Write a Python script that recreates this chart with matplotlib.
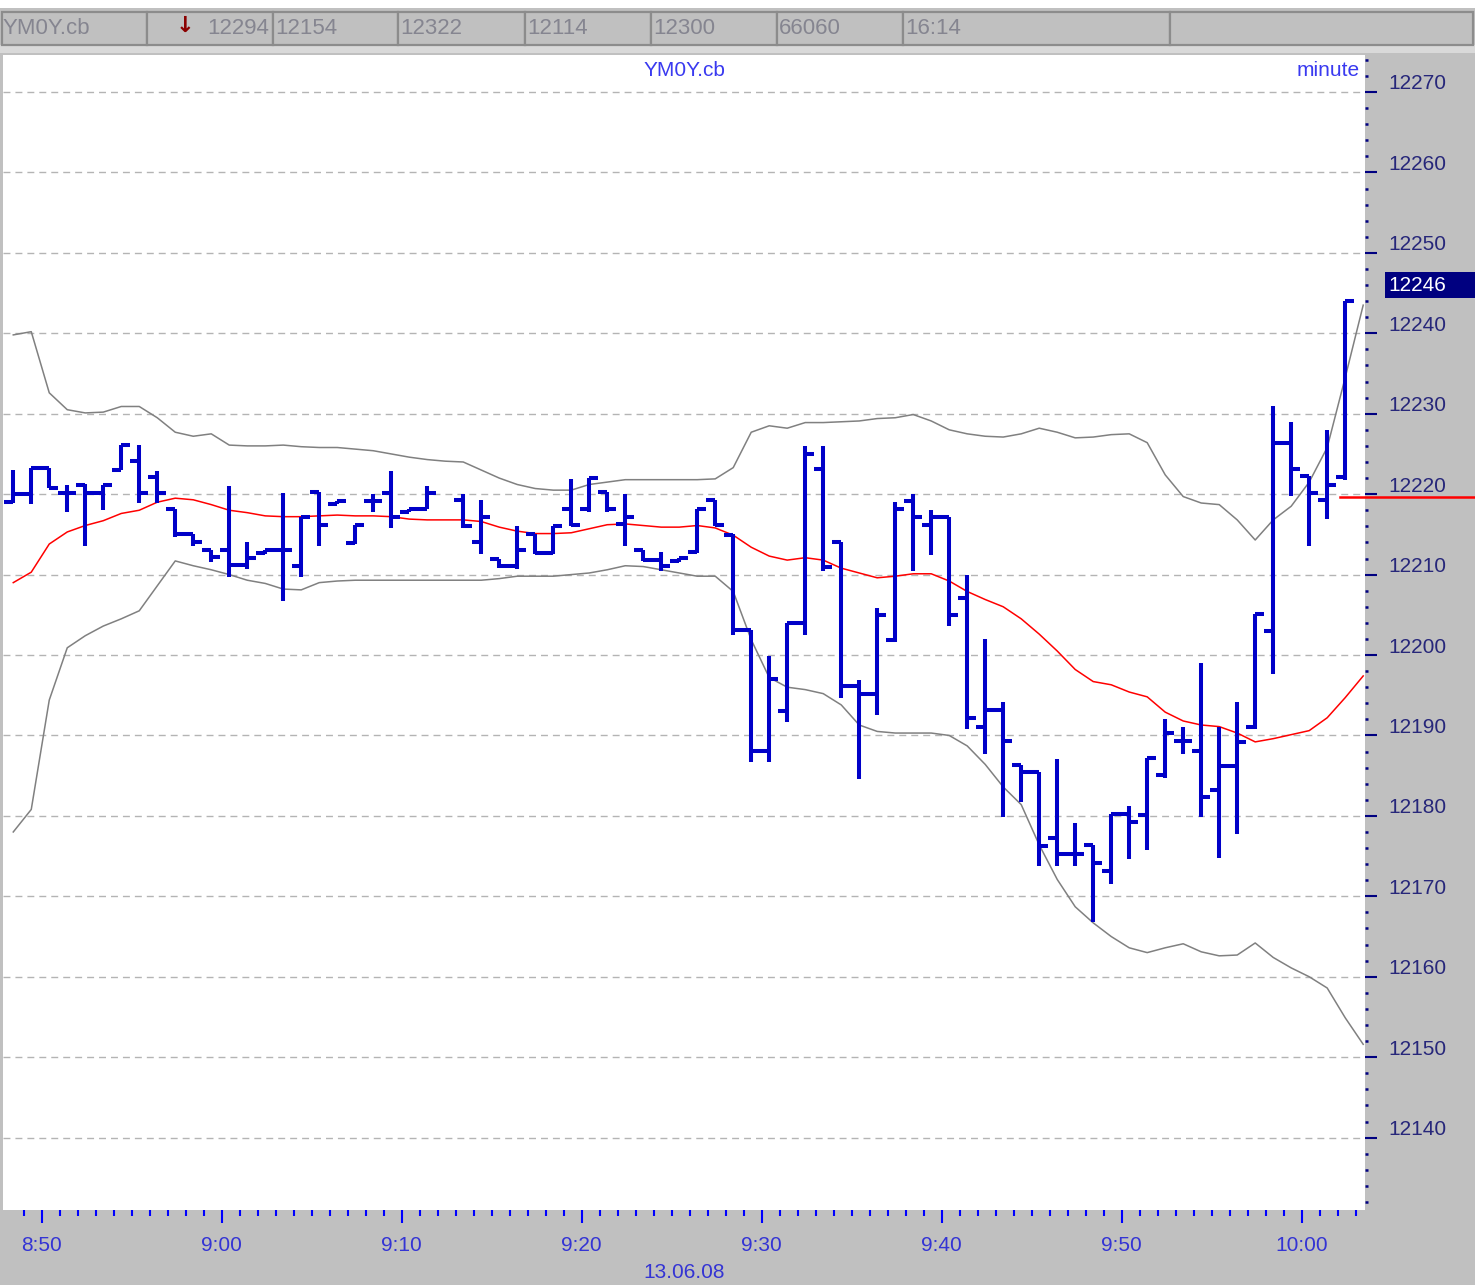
import numpy as np
import matplotlib
matplotlib.use("Agg")
import matplotlib.pyplot as plt
from matplotlib.patches import Rectangle
from matplotlib.transforms import ScaledTranslation, blended_transform_factory
from matplotlib.ticker import MultipleLocator, FixedLocator, FuncFormatter

plt.rcParams['font.family'] = ['Liberation Sans', 'DejaVu Sans']

# ---------------- data ----------------
symbol = "YM0Y.cb"
interval_label = "minute"
date_label = "13.06.08"
header_fields = ["YM0Y.cb", "12294", "12154", "12322", "12114", "12300", "66060", "16:14"]
last_price_label = "12246"
alert_level = 12219.7
first_bar_time = 8 * 60 + 48.42   # minutes after midnight of first bar

nan = float('nan')
opens = [12219.0, 12220.0, 12223.2, 12220.2, 12221.2, 12220.2, 12223.0, 12224.1, 12222.1, 12218.2,
         12215.0, 12213.1, 12213.1, 12211.2, 12212.7, 12213.0, 12211.1, 12220.3, 12218.8, 12213.9,
         12219.1, 12220.2, 12217.8, 12218.1, nan, 12219.3, 12214.0, 12212.0, 12211.1, 12215.0,
         12212.7, 12218.1, 12218.1, 12220.3, 12216.3, 12213.0, 12211.8, 12211.7, 12212.8, 12219.3,
         12214.9, 12203.1, 12188.1, 12193.0, 12204.0, 12223.1, 12214.0, 12196.1, 12195.1, 12201.9,
         12219.1, 12216.2, 12217.2, 12207.1, 12191.1, 12193.2, 12186.3, 12185.4, 12177.3, 12175.3,
         12176.4, 12173.2, 12180.2, 12180.1, 12185.1, 12189.3, 12188.1, 12183.2, 12186.2, 12191.1,
         12203.0, 12226.3, 12222.2, 12219.3, 12222.1]
highs = [12223.0, 12223.2, 12223.2, 12221.1, 12221.3, 12221.2, 12226.1, 12226.1, 12222.9, 12218.2,
         12215.0, 12213.1, 12221.0, 12214.0, 12213.0, 12220.1, 12217.2, 12220.3, 12219.1, 12216.2,
         12220.0, 12222.9, 12218.1, 12221.0, nan, 12220.0, 12219.3, 12212.0, 12216.1, 12215.0,
         12216.1, 12221.9, 12222.0, 12220.3, 12220.0, 12213.0, 12212.8, 12212.1, 12218.1, 12219.3,
         12215.1, 12203.1, 12199.9, 12204.0, 12226.0, 12226.0, 12214.0, 12196.9, 12205.8, 12219.0,
         12220.0, 12218.0, 12217.2, 12210.0, 12202.0, 12194.1, 12186.3, 12185.4, 12187.1, 12179.1,
         12176.4, 12180.2, 12181.2, 12187.2, 12192.1, 12191.0, 12199.0, 12191.0, 12194.1, 12205.1,
         12231.0, 12229.0, 12222.2, 12228.0, 12244.0]
lows = [12218.9, 12218.8, 12220.8, 12217.8, 12213.6, 12218.0, 12223.0, 12218.9, 12218.9, 12214.7,
        12213.6, 12211.6, 12209.7, 12210.7, 12212.5, 12206.7, 12209.7, 12213.6, 12218.8, 12213.8,
        12217.8, 12215.8, 12217.8, 12218.1, nan, 12215.8, 12212.5, 12210.8, 12210.7, 12212.5,
        12212.5, 12216.0, 12217.8, 12217.8, 12213.6, 12211.7, 12210.5, 12211.6, 12212.7, 12216.0,
        12202.5, 12186.7, 12186.7, 12191.7, 12202.5, 12210.5, 12194.7, 12184.6, 12192.6, 12201.6,
        12210.5, 12212.4, 12203.6, 12190.8, 12187.7, 12179.8, 12181.7, 12173.8, 12173.8, 12173.8,
        12166.8, 12171.5, 12174.7, 12175.8, 12184.7, 12187.7, 12179.8, 12174.8, 12177.7, 12190.8,
        12197.6, 12219.8, 12213.6, 12216.9, 12221.8]
closes = [12220.0, 12223.2, 12220.8, 12220.2, 12220.2, 12221.2, 12226.1, 12220.1, 12220.2, 12215.0,
          12214.0, 12212.2, 12211.2, 12212.1, 12213.0, 12213.0, 12217.2, 12216.2, 12219.1, 12216.2,
          12219.1, 12217.1, 12218.1, 12220.2, nan, 12216.1, 12217.2, 12211.1, 12213.0, 12212.7,
          12216.1, 12216.2, 12222.0, 12218.1, 12217.2, 12211.8, 12211.1, 12212.1, 12218.1, 12216.2,
          12203.1, 12188.1, 12197.0, 12204.0, 12225.0, 12211.0, 12196.1, 12195.1, 12205.0, 12218.1,
          12217.2, 12217.2, 12205.0, 12192.2, 12193.2, 12189.3, 12185.4, 12176.3, 12175.3, 12175.3,
          12174.2, 12180.2, 12179.2, 12187.2, 12190.3, 12189.3, 12182.3, 12186.2, 12189.2, 12205.1,
          12226.3, 12223.1, 12220.2, 12221.2, 12244.0]

moving_avg = [12209.0, 12210.3, 12213.8, 12215.3, 12216.1, 12216.7, 12217.6, 12218.0, 12219.0, 12219.5,
              12219.3, 12218.7, 12218.0, 12217.7, 12217.3, 12217.2, 12217.2, 12217.3, 12217.4, 12217.3,
              12217.3, 12217.2, 12216.9, 12216.8, 12216.8, 12216.8, 12216.6, 12215.9, 12215.4, 12215.1,
              12215.1, 12215.2, 12215.7, 12216.2, 12216.3, 12216.1, 12215.9, 12215.9, 12216.1, 12215.8,
              12214.9, 12213.4, 12212.3, 12211.8, 12212.1, 12211.8, 12210.8, 12210.2, 12209.6, 12209.8,
              12210.1, 12210.1, 12209.2, 12207.9, 12206.9, 12206.0, 12204.5, 12202.6, 12200.5, 12198.2,
              12196.7, 12196.3, 12195.4, 12194.8, 12192.9, 12191.8, 12191.3, 12191.1, 12190.3, 12189.2,
              12189.6, 12190.1, 12190.6, 12192.2, 12194.7, 12197.4]
upper_band = [12239.8, 12240.2, 12232.6, 12230.5, 12230.1, 12230.2, 12230.9, 12230.9, 12229.5, 12227.7,
              12227.2, 12227.5, 12226.1, 12226.0, 12226.0, 12226.1, 12225.9, 12225.8, 12225.8, 12225.6,
              12225.4, 12225.0, 12224.6, 12224.3, 12224.1, 12224.0, 12223.0, 12222.0, 12221.2, 12220.7,
              12220.5, 12220.5, 12221.2, 12221.5, 12221.8, 12221.8, 12221.8, 12221.8, 12221.8, 12221.9,
              12223.3, 12227.7, 12228.5, 12228.2, 12228.9, 12228.9, 12229.0, 12229.1, 12229.4, 12229.5,
              12229.9, 12229.1, 12228.0, 12227.5, 12227.2, 12227.1, 12227.5, 12228.2, 12227.7, 12227.0,
              12227.1, 12227.4, 12227.5, 12226.4, 12222.4, 12219.7, 12218.9, 12218.7, 12216.8, 12214.3,
              12216.8, 12218.5, 12221.5, 12225.8, 12234.5, 12243.5]
lower_band = [12178.0, 12180.8, 12194.4, 12200.9, 12202.4, 12203.6, 12204.5, 12205.5, 12208.6, 12211.7,
              12211.1, 12210.6, 12210.0, 12209.3, 12208.9, 12208.2, 12208.1, 12209.0, 12209.2, 12209.3,
              12209.3, 12209.3, 12209.3, 12209.3, 12209.3, 12209.3, 12209.3, 12209.5, 12209.8, 12209.8,
              12209.8, 12210.0, 12210.2, 12210.6, 12211.1, 12211.0, 12210.6, 12210.2, 12209.8, 12209.8,
              12207.9, 12201.9, 12197.2, 12196.0, 12195.7, 12195.2, 12193.8, 12191.3, 12190.5, 12190.3,
              12190.3, 12190.3, 12190.0, 12188.7, 12186.4, 12183.6, 12181.4, 12176.4, 12172.1, 12168.7,
              12166.7, 12165.0, 12163.6, 12163.0, 12163.6, 12164.1, 12163.1, 12162.6, 12162.7, 12164.2,
              12162.4, 12161.1, 12160.0, 12158.6, 12154.9, 12151.6]

# ---------------- style ----------------
W, H = 1475, 1285
BG = '#c0c0c0'
BAR = '#0000c8'
NAVY = '#000080'
YLAB = '#27277a'
XBLUE = '#0000ff'
XLAB = '#3434d4'
TITLE = '#3a3af0'

fig = plt.figure(figsize=(W / 100, H / 100), dpi=100, facecolor=BG)

def fx(px):
    return px / W

def fy(py):
    return 1 - py / H

# header strip
fig.add_artist(Rectangle((0, fy(8)), 1, 8 / H, transform=fig.transFigure,
                         facecolor='white', edgecolor='none'))
fig.add_artist(Rectangle((0, fy(53)), 1, 8 / H, transform=fig.transFigure,
                         facecolor='#d9d9d9', edgecolor='none'))
edges = [2, 147, 273, 398, 525, 651, 777, 903, 1170, 1473]
for a, b in zip(edges[:-1], edges[1:]):
    fig.add_artist(Rectangle((fx(a), fy(45)), fx(b - a), 33 / H, transform=fig.transFigure,
                             facecolor=BG, edgecolor='#8c8c8c', lw=1.6))
hdr_color = '#858590'
hdr_y = fy(29)
fig.text(fx(3), hdr_y, header_fields[0], color=hdr_color, fontsize=16, va='center', ha='left')
fig.text(fx(185), fy(26), '\u2193', color='#8b0000', fontsize=16, fontweight='bold',
         va='center', ha='center', family=['DejaVu Sans'])
fig.text(fx(269), hdr_y, header_fields[1], color=hdr_color, fontsize=16, va='center', ha='right')
for left, txt in zip(edges[2:8], header_fields[2:]):
    fig.text(fx(left + 2), hdr_y, txt, color=hdr_color, fontsize=16, va='center', ha='left')

# main axes
ax = fig.add_axes([fx(3), 1 - 1210 / H, fx(1362), 1155 / H])
ax.set_facecolor('white')
for s in ax.spines.values():
    s.set_visible(False)

x = first_bar_time + np.arange(len(opens))
o = np.array(opens, float)
h = np.array(highs, float)
l = np.array(lows, float)
c = np.array(closes, float)
ok = ~np.isnan(o)
lw_bar = 2.9
ax.vlines(x[ok], l[ok], h[ok], color=BAR, lw=lw_bar, zorder=4)
ax.hlines(o[ok], x[ok] - 0.5, x[ok], color=BAR, lw=lw_bar, zorder=4)
ax.hlines(c[ok], x[ok], x[ok] + 0.5, color=BAR, lw=lw_bar, zorder=4)

xi = first_bar_time + np.arange(len(moving_avg))
ax.plot(xi, upper_band, color='#808080', lw=1.1, zorder=3)
ax.plot(xi, lower_band, color='#808080', lw=1.1, zorder=3)
ax.plot(xi, moving_avg, color='#ff0000', lw=1.1, zorder=3)

# alert line extending into the price scale
ax.plot([x[-1] - 0.3, x[-1] + 12], [alert_level, alert_level], color='#ff0000', lw=1.8,
        clip_on=False, zorder=5)

ax.set_xlim(527.85, 603.52)
ax.set_ylim(12131.0, 12274.6)

# y axis
ax.yaxis.set_major_locator(MultipleLocator(10))
ax.yaxis.set_minor_locator(MultipleLocator(2))
ax.yaxis.tick_right()
ax.tick_params(axis='y', which='major', direction='out', length=8.6, width=1.5, color=NAVY,
               labelright=False, labelleft=False)
ax.tick_params(axis='y', which='minor', direction='out', length=2.2, width=1.8, color=NAVY)
ax.grid(axis='y', which='major', color='#b4b4b4', lw=1.0, linestyle=(0, (5, 3.6)), zorder=1)
ytr = ax.get_yaxis_transform() + ScaledTranslation(0.23, 0.08, fig.dpi_scale_trans)
for v in range(12140, 12271, 10):
    ax.text(1, v, str(v), transform=ytr, ha='left', va='center', fontsize=15, color=YLAB,
            clip_on=False)

# last price box
ytr_box = blended_transform_factory(fig.transFigure, ax.transData)
box_h = 26 / 8.043
fig.add_artist(Rectangle((fx(1385), float(last_price_label) - box_h / 2), fx(90), box_h,
                         transform=ytr_box, facecolor=NAVY, edgecolor='none'))
fig.text(fx(1388), float(last_price_label), last_price_label, transform=ytr_box,
         ha='left', va='center', fontsize=15, color='white')

# x axis
ax.xaxis.set_major_locator(FixedLocator(np.arange(530, 601, 10)))
ax.xaxis.set_minor_locator(FixedLocator(np.arange(529, 604, 1)))
ax.xaxis.set_major_formatter(FuncFormatter(lambda v, p: f"{int(round(v)) // 60}:{int(round(v)) % 60:02d}"))
ax.tick_params(axis='x', which='major', direction='out', length=9.4, width=1.5, color=XBLUE,
               labelsize=15, labelcolor=XLAB, pad=9.5)
ax.tick_params(axis='x', which='minor', direction='out', length=4.3, width=1.5, color=XBLUE)

ax.text(0.5, -63 / 1155, date_label, transform=ax.transAxes, ha='center', va='center',
        fontsize=15, color=XLAB, clip_on=False)
ax.text(0.5, 1 - 16 / 1155, symbol, transform=ax.transAxes, ha='center', va='center',
        fontsize=15, color=TITLE)
ax.text(1 - 5 / 1362, 1 - 16 / 1155, interval_label, transform=ax.transAxes, ha='right',
        va='center', fontsize=15, color=TITLE)

fig.savefig('out.png', dpi=100, facecolor=BG)
